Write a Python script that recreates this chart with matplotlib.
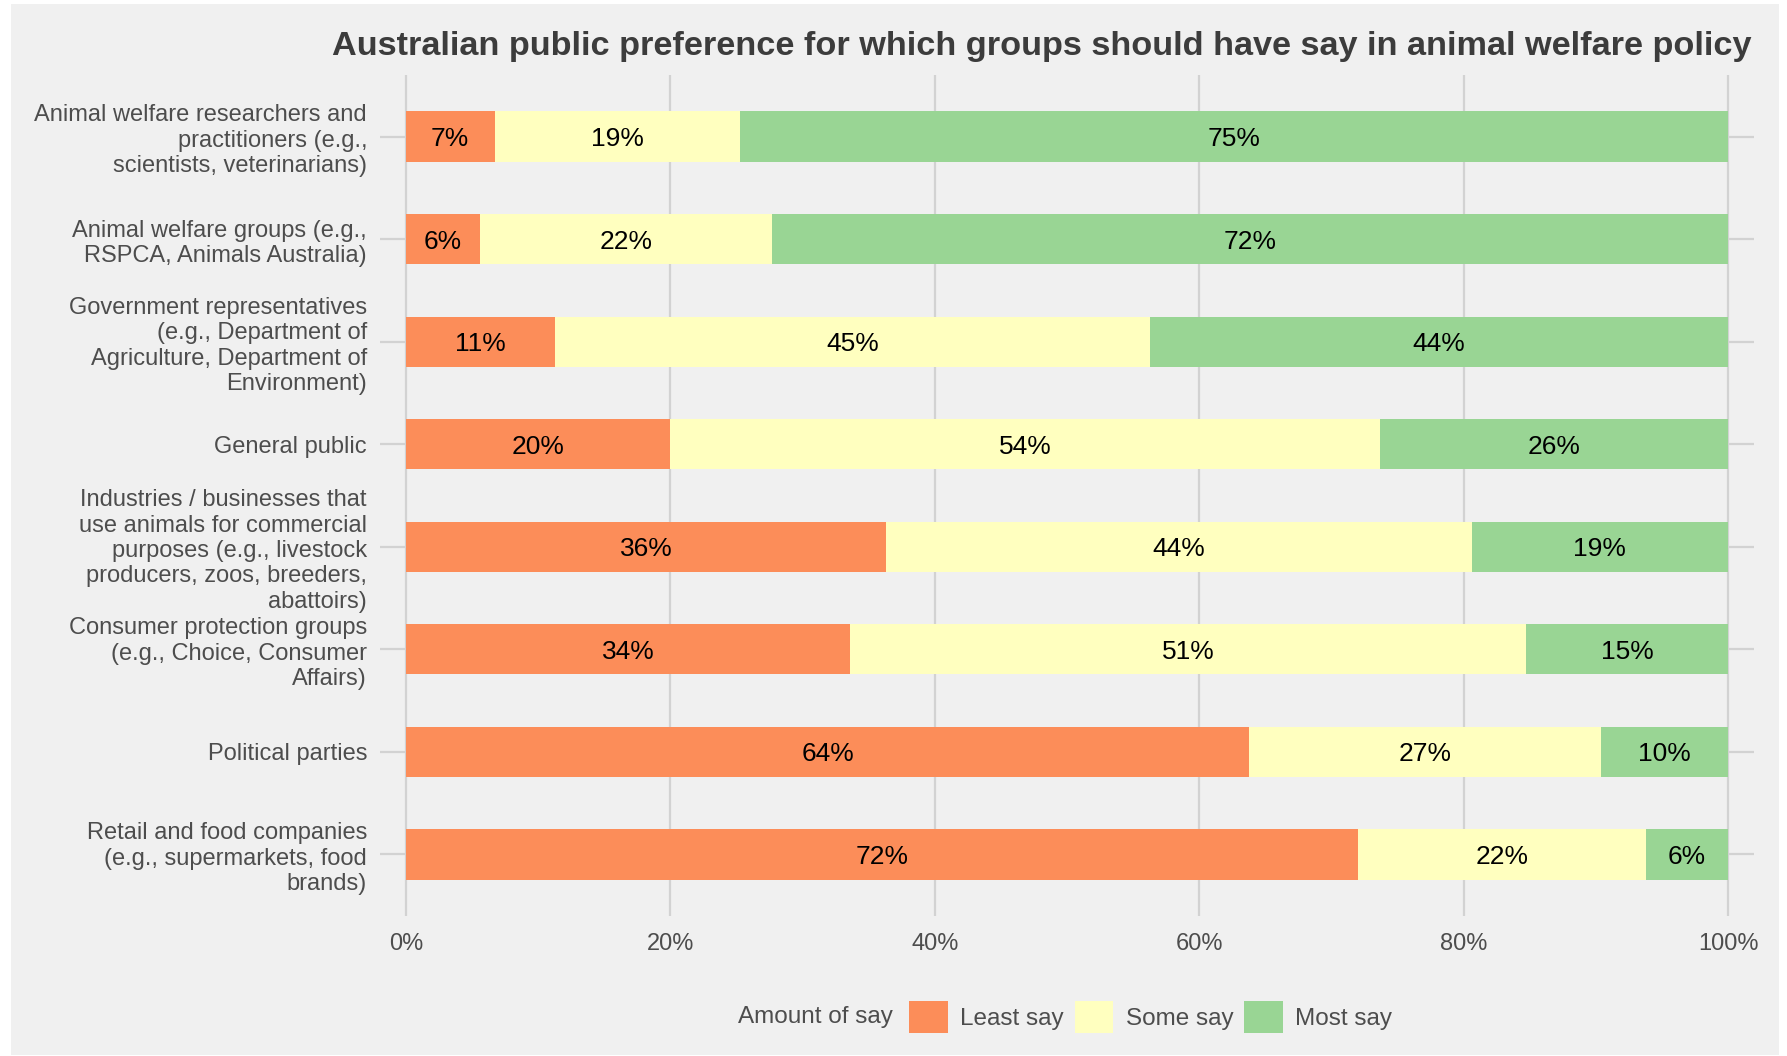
import numpy as np
import matplotlib.pyplot as plt
from matplotlib.patches import Patch, Rectangle

plt.rcParams['font.family'] = ['Liberation Sans', 'DejaVu Sans']

# Data (percent of respondents)
groups = [
    "Animal welfare researchers and\npractitioners (e.g.,\nscientists, veterinarians)",
    "Animal welfare groups (e.g.,\nRSPCA, Animals Australia)",
    "Government representatives\n(e.g., Department of\nAgriculture, Department of\nEnvironment)",
    "General public",
    "Industries / businesses that\nuse animals for commercial\npurposes (e.g., livestock\nproducers, zoos, breeders,\nabattoirs)",
    "Consumer protection groups\n(e.g., Choice, Consumer\nAffairs)",
    "Political parties",
    "Retail and food companies\n(e.g., supermarkets, food\nbrands)",
]
least_say = [6.7, 5.6, 11.3, 20.0, 36.3, 33.6, 63.8, 72.0]
some_say = [18.6, 22.1, 45.0, 53.7, 44.3, 51.1, 26.6, 21.8]
most_say = [74.7, 72.3, 43.7, 26.3, 19.4, 15.3, 9.6, 6.2]
levels = ["Least say", "Some say", "Most say"]
colors = ["#FC8D59", "#FFFFBF", "#99D594"]
xticks = [0, 20, 40, 60, 80, 100]

W, H = 1787, 1056
fig = plt.figure(figsize=(W / 100, H / 100), dpi=100)
fig.patch.set_facecolor('white')
bg = '#F0F0F0'
fig.patches.append(Rectangle((11 / W, 1 / H), 1768 / W, 1051 / H,
                             transform=fig.transFigure, facecolor=bg,
                             edgecolor='none', zorder=-10))

ax = fig.add_axes([379.5 / W, 1 - 916 / H, 1375 / W, 841 / H])
ax.set_facecolor(bg)

y = np.arange(len(groups))
left = np.zeros(len(groups))
for vals, lab, col in zip([least_say, some_say, most_say], levels, colors):
    vals = np.array(vals)
    ax.barh(y, vals, left=left, height=0.49, color=col, label=lab, zorder=2)
    for yi, l, v in zip(y, left, vals):
        ax.text(l + v / 2, yi, f"{round(v)}%", ha='center', va='center_baseline',
                fontsize=19, color='black', zorder=3)
    left += vals

ax.set_xlim(-2, 102)
ax.set_ylim(len(groups) - 0.4, -0.6)
ax.set_xticks(xticks)
ax.set_xticklabels([f"{t}%" for t in xticks])
ax.set_yticks(y)
ax.set_yticklabels(groups)
ax.tick_params(axis='both', length=0, labelsize=17, colors='#4D4D4D')
ax.tick_params(axis='x', pad=12)
ax.tick_params(axis='y', pad=9)
ax.grid(True, color='#D2D2D2', linewidth=1.6, zorder=0)
ax.set_axisbelow(True)
for s in ax.spines.values():
    s.set_visible(False)

fig.text(1752 / W, 1 - 46 / H,
         "Australian public preference for which groups should have say in animal welfare policy",
         ha='right', va='center', fontsize=24.7, fontweight='bold', color='#3C3C3C')

# legend with title on the left
fig.text(738 / W, 1 - 1017 / H, "Amount of say", ha='left', va='center',
         fontsize=17.5, color='#4D4D4D')
handles = [Patch(facecolor=c, edgecolor='none', label=l) for c, l in zip(colors, levels)]
leg = fig.legend(handles=handles, loc='center left', ncol=3,
                 bbox_to_anchor=(909 / W, 1 - 1017 / H), frameon=False,
                 fontsize=17.5, handlelength=1.6, handleheight=1.6,
                 handletextpad=0.5, columnspacing=0.45, borderpad=0,
                 borderaxespad=0)
for t in leg.get_texts():
    t.set_color('#4D4D4D')

fig.savefig('out.png', dpi=100, facecolor='white')
